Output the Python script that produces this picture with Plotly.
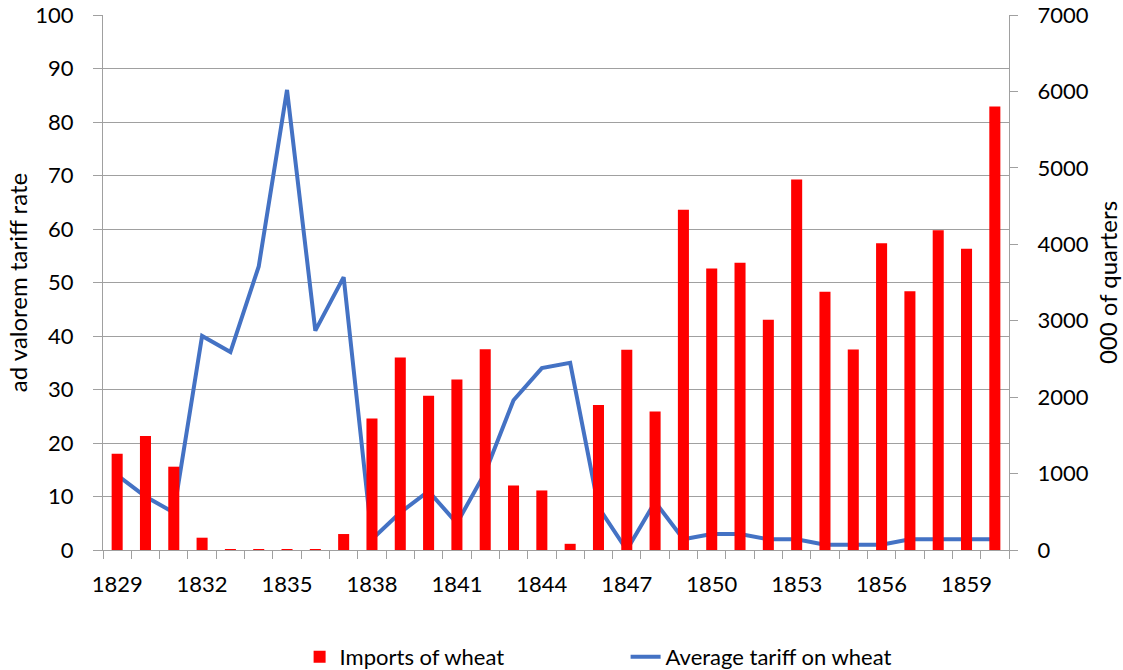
import plotly.graph_objects as go

years = list(range(1829, 1861))
imports_wheat = [1260, 1492, 1090, 161, 5, 5, 5, 5, 209, 1722,
                 2519, 2018, 2231, 2628, 844, 779, 81, 1898, 2620, 1812,
                 4451, 3683, 3758, 3012, 4848, 3378, 2623, 4014, 3386, 4185,
                 3941, 5803]
avg_tariff = [14, 10, 7, 40, 37, 53, 86, 41, 51, 2,
              7, 11, 5, 14.5, 28, 34, 35, 8, 0, 9,
              2, 3, 3, 2, 2, 1, 1, 1, 2, 2,
              2, 2]
xtick_years = years[::3]

FONT = "Lato"
GRID = "#a0a0a0"
AX = "#a0a0a0"

fig = go.Figure()
fig.add_trace(go.Bar(
    x=years, y=imports_wheat, name="Imports of wheat",
    marker=dict(color="#FF0000", line=dict(width=0)),
    width=0.39, yaxis="y2",
))
fig.add_trace(go.Scatter(
    x=years, y=avg_tariff, name="Average tariff on wheat",
    mode="lines", line=dict(color="#4472C4", width=4),
    yaxis="y",
))

boundaries = [y - 0.5 for y in years] + [years[-1] + 0.5]

fig.update_layout(
    width=1123, height=670,
    margin=dict(l=103, r=114, t=15, b=120, autoexpand=False),
    plot_bgcolor="white", paper_bgcolor="white",
    font=dict(family=FONT, size=22, color="#000000"),
    showlegend=True,
    legend=dict(orientation="h", x=0.217, xanchor="left", y=-0.2, yanchor="middle",
                font=dict(size=22), entrywidth=281, entrywidthmode="pixels",
                traceorder="normal"),
    xaxis=dict(
        range=[years[0] - 0.5, years[-1] + 0.5],
        tickmode="array", tickvals=xtick_years, ticktext=[str(v) for v in xtick_years],
        ticks="", showgrid=False, zeroline=False,
        showline=True, linecolor=AX, linewidth=1,
        minor=dict(tickmode="array", tickvals=boundaries, ticks="outside",
                   ticklen=8, tickcolor=AX, tickwidth=1, showgrid=False),
        ticklabelstandoff=15, automargin=False,
    ),
    yaxis=dict(
        range=[0, 100], dtick=10, tick0=0,
        showgrid=True, gridcolor=GRID, gridwidth=1,
        zeroline=False, showline=True, linecolor=AX, linewidth=1,
        ticks="outside", ticklen=9, tickcolor=AX,
        ticklabelstandoff=15, automargin=False,
        title=dict(text="ad valorem tariff rate", font=dict(size=24), standoff=0),
    ),
    yaxis2=dict(
        range=[0, 7000], dtick=1000, tick0=0,
        overlaying="y", side="right",
        showgrid=False, zeroline=False, showline=True, linecolor=AX, linewidth=1,
        ticks="outside", ticklen=8, tickcolor=AX,
        ticklabelstandoff=15, automargin=False,
        title=dict(text="000 of quarters", font=dict(size=24), standoff=12),
    ),
    bargap=0.6,
)

fig.write_html("out.html", config={"displayModeBar": False},
               post_script="document.body.style.margin='0';window.dispatchEvent(new Event('resize'));")
